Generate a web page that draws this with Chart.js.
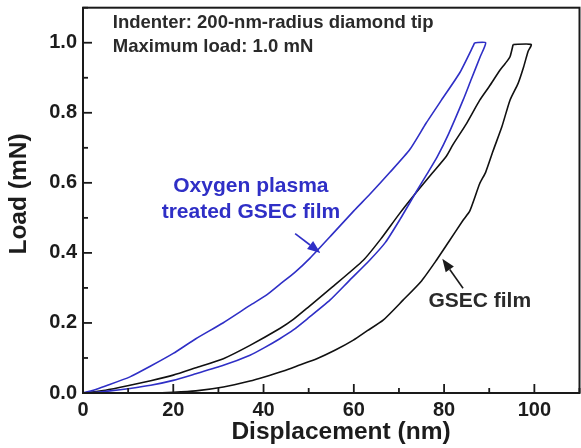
<!DOCTYPE html>
<html><head><meta charset="utf-8">
<script src="https://cdn.jsdelivr.net/npm/chart.js@4/dist/chart.umd.min.js"></script>
<style>html,body{margin:0;padding:0;background:#fff;}#wrap{width:581px;height:448px;}</style>
</head><body><div id="wrap"><canvas id="c" width="581" height="448"></canvas></div>
<script>
// Oxygen plasma treated GSEC film (blue)
const oxyLoadX = [0, 2.3, 5, 10.4, 15, 20, 25, 31, 37, 40.7, 43.6, 47, 50.3, 55, 60, 63.6, 68, 72.4, 76, 79.4, 83.5, 86.8];
const oxyLoadY = [0, 0.008, 0.02, 0.046, 0.077, 0.113, 0.155, 0.2, 0.25, 0.28, 0.31, 0.345, 0.385, 0.45, 0.52, 0.568, 0.63, 0.695, 0.77, 0.836, 0.915, 1.0];
const oxyUnloadX = [86.8, 89.2, 88.0, 86.0, 84.2, 81, 78.5, 76.2, 73.9, 70.2, 67, 63.5, 59, 54.7, 50, 46.6, 43.6, 40, 37, 31.1, 25, 20, 15, 10.4, 6, 3, 1];
const oxyUnloadY = [1.0, 1.0, 0.96, 0.895, 0.836, 0.74, 0.675, 0.625, 0.576, 0.495, 0.43, 0.379, 0.321, 0.265, 0.215, 0.18, 0.155, 0.128, 0.108, 0.079, 0.055, 0.036, 0.022, 0.013, 0.006, 0.002, 0];
// GSEC film (black)
const gsecLoadX = [0, 5, 10.4, 15, 20, 25, 31.1, 37, 43.6, 46.6, 50, 55, 62.1, 66, 70, 74, 77.4, 80.5, 82, 85, 87.9, 90, 92.4, 93.5, 94.6, 95.3];
const gsecLoadY = [0, 0.008, 0.022, 0.035, 0.051, 0.072, 0.098, 0.136, 0.184, 0.21, 0.246, 0.3, 0.379, 0.44, 0.51, 0.575, 0.628, 0.676, 0.71, 0.77, 0.836, 0.875, 0.922, 0.94, 0.96, 0.995];
const gsecUnloadX = [95.3, 99.3, 98.6, 97.6, 96.4, 94.6, 92.8, 90.9, 89.2, 87.9, 85.7, 84.2, 81, 78.3, 75, 70.9, 66.5, 63, 59.9, 55.8, 51.8, 48, 44.4, 40, 37, 31.1, 25, 20, 15];
const gsecUnloadY = [0.995, 0.995, 0.975, 0.93, 0.884, 0.836, 0.76, 0.693, 0.63, 0.598, 0.52, 0.493, 0.431, 0.379, 0.32, 0.265, 0.208, 0.178, 0.151, 0.122, 0.098, 0.08, 0.063, 0.045, 0.034, 0.017, 0.006, 0.002, 0];

const xTickStep = 10, yTickStep = 0.1;
const xMin = 0, xMax = 110, yMin = 0, yMax = 1.1;

const BLUE = '#2f2fc6', BLACK = '#111111', TEXT = '#1c1c1c', FONT = '"Liberation Sans", Arial, sans-serif';

function pts(xs, ys){ return xs.map((v,i)=>({x:v, y:ys[i]})); }
function ds(xs, ys, color){
  return {data: pts(xs, ys), borderColor: color, borderWidth: 1.6, pointRadius: 0, showLine: true, fill: false, tension: 0.2};
}

function arrow(ctx, x1, y1, x2, y2, color){
  const ang = Math.atan2(y2-y1, x2-x1), hl = 13, hw = 5;
  const bx = x2 - hl*Math.cos(ang), by = y2 - hl*Math.sin(ang);
  ctx.strokeStyle = color; ctx.fillStyle = color; ctx.lineWidth = 1.6;
  ctx.beginPath(); ctx.moveTo(x1,y1); ctx.lineTo(bx,by); ctx.stroke();
  ctx.beginPath(); ctx.moveTo(x2,y2);
  ctx.lineTo(bx + hw*Math.sin(ang), by - hw*Math.cos(ang));
  ctx.lineTo(bx - hw*Math.sin(ang), by + hw*Math.cos(ang));
  ctx.closePath(); ctx.fill();
}

const decor = {
  id: 'decor',
  afterDatasetsDraw(chart){
    const {ctx, chartArea:a, scales:{x, y}} = chart;
    ctx.save();
    ctx.strokeStyle = '#1a1a1a'; ctx.lineWidth = 2;
    ctx.strokeRect(a.left, a.top, a.right-a.left, a.bottom-a.top);
    ctx.lineWidth = 1.8;
    x.ticks.forEach((t,i)=>{
      const p = x.getPixelForValue(t.value), len = i%2===0 ? 9 : 5;
      ctx.beginPath(); ctx.moveTo(p, a.bottom); ctx.lineTo(p, a.bottom-len); ctx.stroke();
    });
    y.ticks.forEach((t,i)=>{
      const p = y.getPixelForValue(t.value), len = i%2===0 ? 9 : 5;
      ctx.beginPath(); ctx.moveTo(a.left, p); ctx.lineTo(a.left+len, p); ctx.stroke();
    });
    ctx.textBaseline = 'middle';
    ctx.fillStyle = '#2a2a2a';
    ctx.font = 'bold 18.5px ' + FONT;
    ctx.textAlign = 'left';
    ctx.fillText('Indenter: 200-nm-radius diamond tip', x.getPixelForValue(6.6), y.getPixelForValue(1.056));
    ctx.fillText('Maximum load: 1.0 mN', x.getPixelForValue(6.6), y.getPixelForValue(0.988));
    ctx.font = 'bold 21px ' + FONT;
    ctx.textAlign = 'center';
    ctx.fillStyle = BLUE;
    ctx.fillText('Oxygen plasma', x.getPixelForValue(37.2), y.getPixelForValue(0.589));
    ctx.fillText('treated GSEC film', x.getPixelForValue(37.2), y.getPixelForValue(0.517));
    ctx.fillStyle = '#2a2a2a';
    ctx.fillText('GSEC film', x.getPixelForValue(87.9), y.getPixelForValue(0.262));
    arrow(ctx, x.getPixelForValue(47.0), y.getPixelForValue(0.455), x.getPixelForValue(52.6), y.getPixelForValue(0.400), BLUE);
    arrow(ctx, x.getPixelForValue(84.2), y.getPixelForValue(0.299), x.getPixelForValue(79.6), y.getPixelForValue(0.383), '#1a1a1a');
    ctx.fillStyle = TEXT;
    ctx.font = 'bold 24.5px ' + FONT;
    ctx.fillText('Displacement (nm)', 341, 432);
    ctx.save();
    ctx.translate(19, 194); ctx.rotate(-Math.PI/2);
    ctx.fillText('Load (mN)', 0, 0);
    ctx.restore();
    ctx.restore();
  }
};

new Chart(document.getElementById('c'), {
  type: 'scatter',
  data: { datasets: [
    ds(oxyLoadX, oxyLoadY, BLUE),
    ds(oxyUnloadX, oxyUnloadY, BLUE),
    ds(gsecLoadX, gsecLoadY, BLACK),
    ds(gsecUnloadX, gsecUnloadY, BLACK)
  ]},
  options: {
    responsive: false, animation: false, devicePixelRatio: 1,
    layout: { padding: { top: 7.7, right: 1.5, left: 0, bottom: 0 } },
    plugins: { legend: { display: false }, tooltip: { enabled: false } },
    scales: {
      x: {
        type: 'linear', min: xMin, max: xMax,
        grid: { drawOnChartArea: false, drawTicks: false },
        border: { display: false },
        ticks: { stepSize: xTickStep, includeBounds: false, autoSkip: false, maxRotation: 0, padding: 5,
          color: TEXT, font: { family: FONT, size: 20, weight: 'bold' },
          callback: (v, i) => i % 2 === 0 ? String(Math.round(v)) : '' },
        afterFit: s => { s.height = 55; s.paddingLeft = 0; s.paddingRight = 0; }
      },
      y: {
        type: 'linear', min: yMin, max: yMax,
        grid: { drawOnChartArea: false, drawTicks: false },
        border: { display: false },
        ticks: { stepSize: yTickStep, includeBounds: false, autoSkip: false, padding: 6,
          color: TEXT, font: { family: FONT, size: 20, weight: 'bold' },
          callback: (v, i) => i % 2 === 0 ? Number(v).toFixed(1) : '' },
        afterFit: s => { s.width = 83; s.paddingTop = 0; s.paddingBottom = 0; }
      }
    }
  },
  plugins: [decor]
});
</script></body></html>
